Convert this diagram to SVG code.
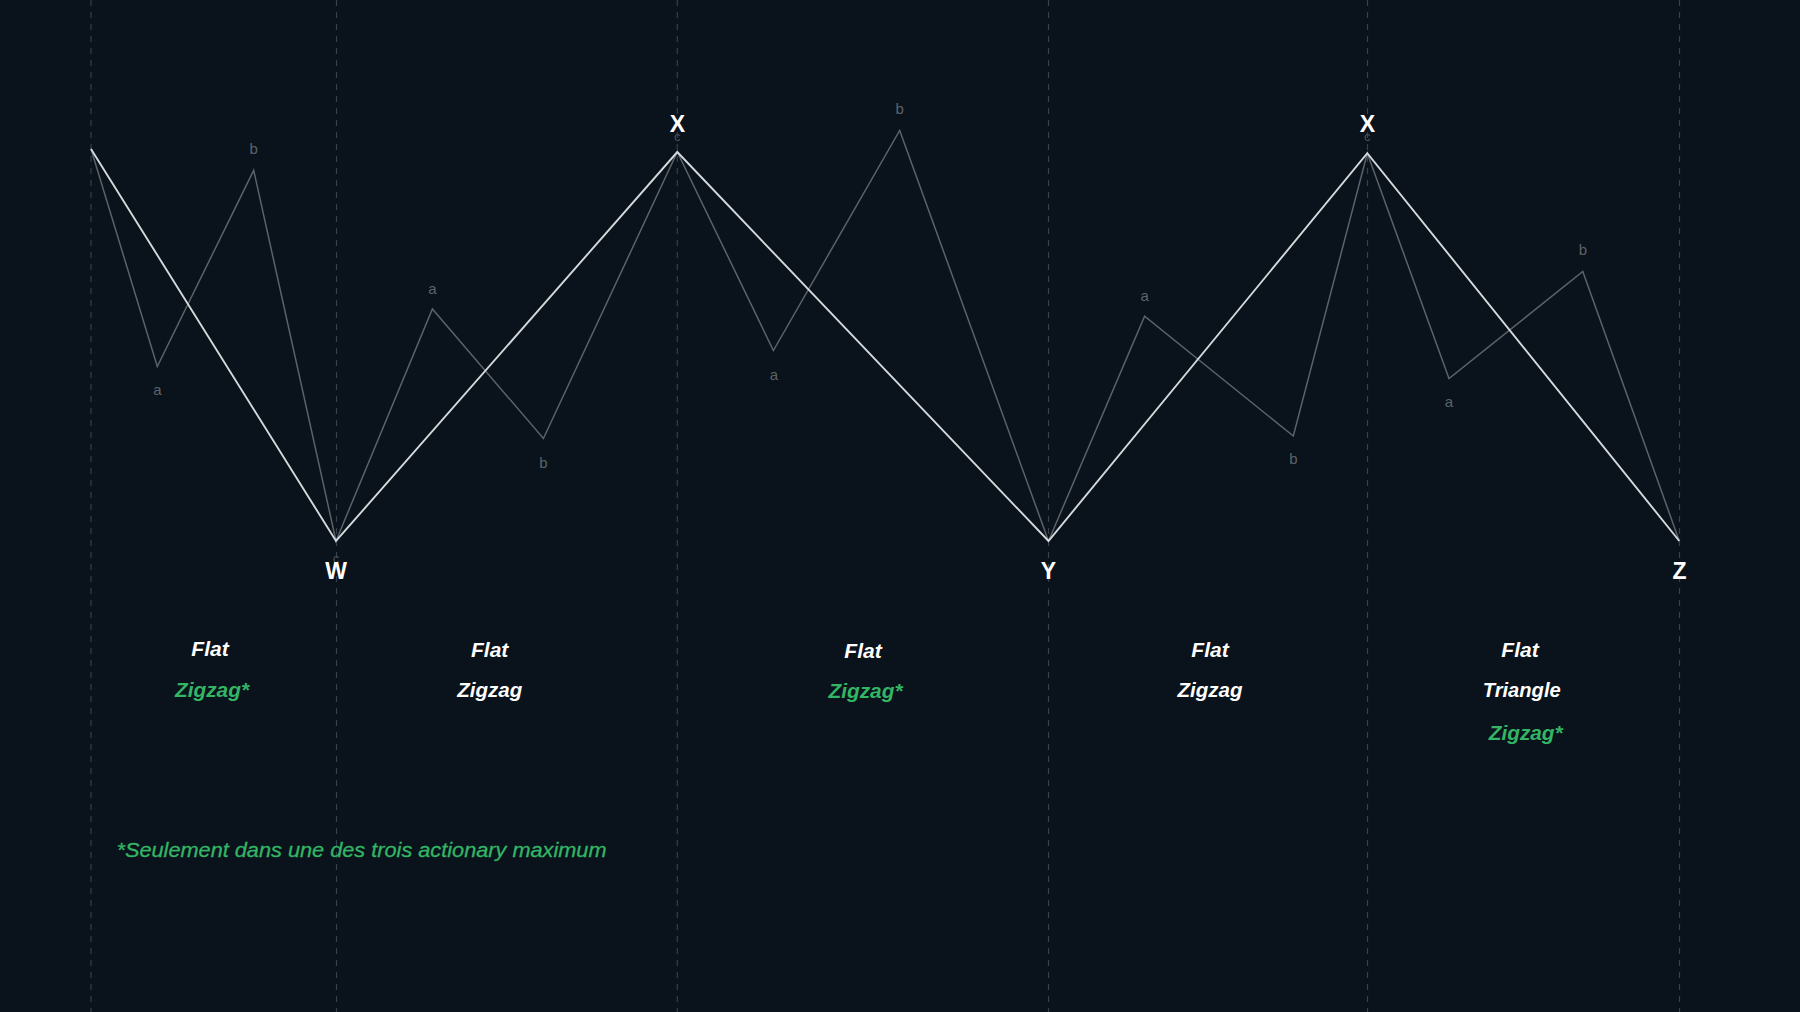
<svg xmlns="http://www.w3.org/2000/svg" width="1800" height="1012" viewBox="0 0 1800 1012">
<defs>
<style>
.grid{stroke:#34404c;stroke-width:1.2;stroke-dasharray:6 6;fill:none}
.main{stroke:#d6d9dc;stroke-width:1.9;fill:none;stroke-linejoin:miter}
.sub{stroke:#5c6269;stroke-width:1.5;fill:none}
.sl{font-family:"Liberation Sans","DejaVu Sans",sans-serif;font-size:15px;fill:#5d636a;text-anchor:middle}
.sc{font-family:"Liberation Sans","DejaVu Sans",sans-serif;font-size:13px;fill:#4a5058;text-anchor:middle}
.pk{font-family:"Liberation Sans","DejaVu Sans",sans-serif;font-size:23px;font-weight:bold;fill:#ffffff;text-anchor:middle}
.lw{font-family:"Liberation Sans","DejaVu Sans",sans-serif;font-size:21px;font-weight:bold;font-style:italic;fill:#ffffff;text-anchor:middle}
.lg{font-family:"Liberation Sans","DejaVu Sans",sans-serif;font-size:21px;font-weight:bold;font-style:italic;fill:#33b565;text-anchor:middle}
.fn{font-family:"Liberation Sans","DejaVu Sans",sans-serif;font-size:20px;font-style:italic;fill:#33b565;stroke:#33b565;stroke-width:0.3}
</style>
</defs>
<rect width="1800" height="1012" fill="#0a121b"/>
<g id="grid">
<line class="grid" x1="91" y1="0" x2="91" y2="1012"/>
<line class="grid" x1="336.5" y1="0" x2="336.5" y2="1012"/>
<line class="grid" x1="677.3" y1="0" x2="677.3" y2="1012"/>
<line class="grid" x1="1048.5" y1="0" x2="1048.5" y2="1012"/>
<line class="grid" x1="1367.5" y1="0" x2="1367.5" y2="1012"/>
<line class="grid" x1="1679.5" y1="0" x2="1679.5" y2="1012"/>
</g>
<g id="connectors">
<polyline class="sub" points="91,149 157.3,366.5 253.7,170.3 336,541 432.4,309 543.4,438.5 677.3,152 773.4,350.5 899.7,130.5 1048.5,541 1144.6,316.2 1293.3,436 1367.3,153.2 1449,378.5 1582.8,271.5 1679.3,541"/>
<polyline class="main" points="91,149 336,541 677.3,152 1048.5,541 1367.3,153.2 1679.3,541"/>
</g>
<g id="wave-labels">
<text class="sl" x="157.3" y="395">a</text>
<text class="sl" x="253.7" y="154">b</text>
<text class="sc" x="336" y="563">c</text>
<text class="sl" x="432.4" y="294">a</text>
<text class="sl" x="543.4" y="468">b</text>
<text class="sc" x="677.3" y="141">c</text>
<text class="sl" x="774" y="380">a</text>
<text class="sl" x="899.7" y="114">b</text>
<text class="sl" x="1144.6" y="301">a</text>
<text class="sl" x="1293.3" y="464">b</text>
<text class="sc" x="1367.3" y="141">c</text>
<text class="sl" x="1449" y="407">a</text>
<text class="sl" x="1582.8" y="255">b</text>
</g>
<g id="node-W"><text class="pk" x="336" y="579">W</text></g>
<g id="node-X1"><text class="pk" x="677.3" y="131.5">X</text></g>
<g id="node-Y"><text class="pk" x="1048.5" y="579">Y</text></g>
<g id="node-X2"><text class="pk" x="1367.3" y="132">X</text></g>
<g id="node-Z"><text class="pk" x="1679.5" y="579">Z</text></g>
<g id="col-1">
<text class="lw" x="210" y="656">Flat</text>
<text class="lg" x="212" y="697" textLength="74" lengthAdjust="spacingAndGlyphs">Zigzag*</text>
</g>
<g id="col-2">
<text class="lw" x="489.7" y="657">Flat</text>
<text class="lw" x="489.7" y="697" textLength="65" lengthAdjust="spacingAndGlyphs">Zigzag</text>
</g>
<g id="col-3">
<text class="lw" x="863" y="658">Flat</text>
<text class="lg" x="865.5" y="698" textLength="74" lengthAdjust="spacingAndGlyphs">Zigzag*</text>
</g>
<g id="col-4">
<text class="lw" x="1210" y="657">Flat</text>
<text class="lw" x="1210" y="697" textLength="65" lengthAdjust="spacingAndGlyphs">Zigzag</text>
</g>
<g id="col-5">
<text class="lw" x="1520" y="657">Flat</text>
<text class="lw" x="1521.7" y="697" textLength="78" lengthAdjust="spacingAndGlyphs">Triangle</text>
<text class="lg" x="1525.7" y="740" textLength="74" lengthAdjust="spacingAndGlyphs">Zigzag*</text>
</g>
<g id="footnote">
<text class="fn" x="116.5" y="857" textLength="490" lengthAdjust="spacingAndGlyphs">*Seulement dans une des trois actionary maximum</text>
</g>
</svg>
